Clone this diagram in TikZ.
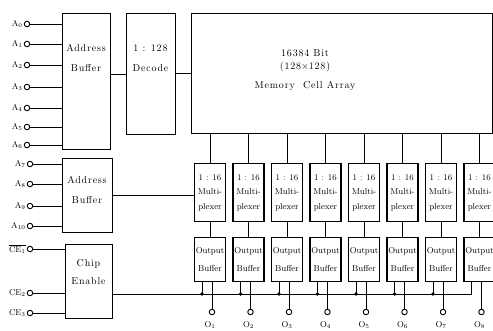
\documentclass[tikz,border=0pt]{standalone}
\usepackage{fontspec}
\newfontfamily\widefont{Latin Modern Roman}[LetterSpace=8]
\usetikzlibrary{positioning,calc}
\tikzset{
  box/.style   = {draw, line width=1.1pt, inner sep=0pt, anchor=north west},
  lbl/.style   = {align=center, font=\widefont\fontsize{10}{16}\selectfont},
  cell/.style  = {draw, line width=1.1pt, align=center, inner sep=0pt,
                  minimum width=31pt, anchor=north, font=\fontsize{8.6}{14.5}\selectfont},
  pin/.style   = {circle, draw, line width=0.9pt, inner sep=0pt, minimum size=5.5pt},
  dot/.style   = {circle, fill, inner sep=0pt, minimum size=3.8pt},
  plbl/.style  = {anchor=east, inner sep=1pt, font=\fontsize{8.5}{10}\selectfont},
  wire/.style  = {line width=0.9pt},
}

\begin{document}
\begin{tikzpicture}[x=1pt, y=-1pt]
  \useasboundingbox (0,0) rectangle (493,330);
  \clip (0,0) rectangle (493,330);

  % address buffer, decoder, memory
  \node[box, minimum width=48pt, minimum height=136pt] (ab1) at (62,13) {};
  \node[lbl] (ab1t) at (86,58) {Address\\[4pt]Buffer};
  \node[box, minimum width=49pt, minimum height=121pt] (dec) at (126,13) {};
  \node[lbl] (dect) at (150.5,58) {1 : 128\\[4pt]Decode};
  \node[box, minimum width=301pt, minimum height=120pt] (mem) at (191,13) {};
  \node[lbl] (memt) at (305,70) {16384 Bit\\[-3pt](128$\times$128)\\[3pt]Memory\ \ Cell Array};
  \draw[wire] (dec.west) -- (dec.west -| ab1.east);
  \draw[wire] (mem.west) -- (mem.west -| dec.east);

  % second address buffer and chip enable
  \node[box, minimum width=50pt, minimum height=74pt] (ab2) at (62,158) {};
  \node[lbl] (ab2t) at (87,190) {Address\\[4pt]Buffer};
  \node[box, minimum width=47pt, minimum height=74pt] (ce) at (65,244) {};
  \node[lbl] (cet) at (88.5,272) {Chip\\[2pt]Enable};

  % address and control pins
  \foreach \n/\y in {0/24,1/44,2/65,3/87,4/108,5/127,6/145} {
    \node[pin] (a\n) at (27,\y) {};
    \node[plbl] at (a\n.west) {$\mathrm{A}_{\n}$};
    \draw[wire] (a\n) -- (a\n -| ab1.west);
  }
  \foreach \n/\y in {7/164,8/184,9/206,10/226} {
    \node[pin] (a\n) at (30,\y) {};
    \node[plbl] at (a\n.west) {$\mathrm{A}_{\n}$};
    \draw[wire] (a\n) -- (a\n -| ab2.west);
  }
  \node[pin] (ce1) at (30,249) {};
  \node[plbl] at (ce1.west) {$\overline{\mathrm{CE}_1}$};
  \node[pin] (ce2) at (30,293) {};
  \node[plbl] at (ce2.west) {$\mathrm{CE}_2$};
  \node[pin] (ce3) at (30,313) {};
  \node[plbl] at (ce3.west) {$\mathrm{CE}_3$};
  \foreach \p in {ce1,ce2,ce3}
    \draw[wire] (\p) -- (\p -| ce.west);

  % multiplexers and output buffers
  \coordinate (bus) at (0,294);
  \foreach \i in {1,...,8} {
    \pgfmathsetmacro\cx{210+38.5*(\i-1)}
    \node[cell, minimum height=58pt] (mux\i) at (\cx,163) {1 : 16\\Multi-\\plexer};
    \node[cell, minimum height=44pt] (ob\i) at (\cx,237) {Output\\[3pt]Buffer};
    \node[pin] (o\i) at (\cx+2,312) {};
    \node[font=\fontsize{8.5}{10}\selectfont] (ol\i) at (\cx,325) {$\mathrm{O}_{\i}$};
    \draw[wire] (mem.south -| mux\i) -- (mux\i);
    \draw[wire] (mux\i) -- (ob\i);
    \draw[wire] (ob\i.south -| o\i) -- (o\i);
    \coordinate (leg\i) at ($(ob\i.south)+(-8,0)$);
  }
  \foreach \i in {1,...,7}
    \draw[wire] (leg\i) -- (leg\i |- bus) node[dot] {};
  \draw[wire] (ab2.east) -- (ab2.east -| mux1.west);
  \draw[wire] (ce.east |- bus) -- (leg8 |- bus) -- (leg8);
\end{tikzpicture}
\end{document}
